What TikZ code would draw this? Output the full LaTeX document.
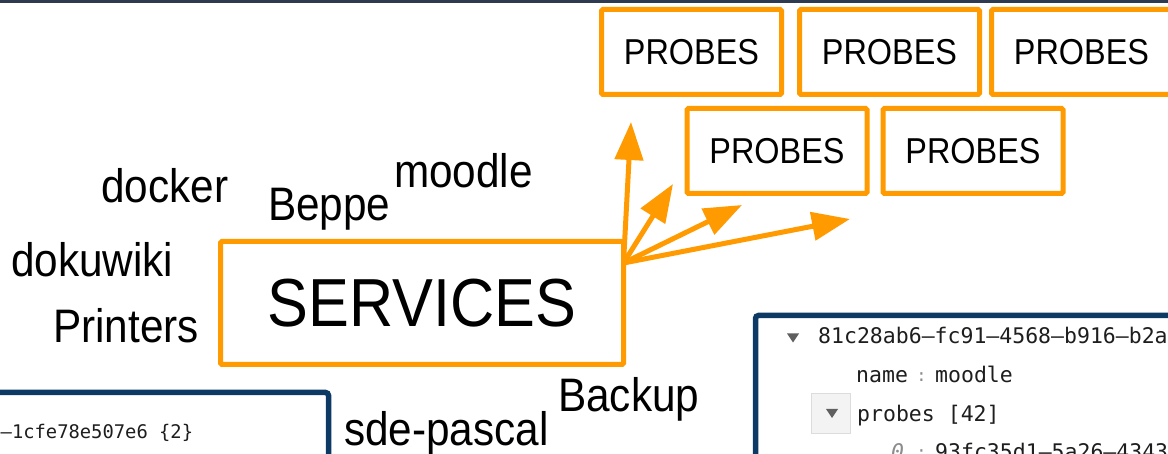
\documentclass[tikz,border=0pt]{standalone}
\usepackage{fontspec}
\setmainfont[FakeStretch=0.9]{Liberation Sans}
\newfontfamily\jsonfont{DejaVu Sans Mono}
\usetikzlibrary{arrows.meta,calc}
\definecolor{orng}{RGB}{255,155,0}
\definecolor{navy}{RGB}{12,58,100}
\definecolor{topbar}{RGB}{46,58,79}
\definecolor{jsontext}{RGB}{30,30,30}
\definecolor{jsongray}{RGB}{140,140,140}
\definecolor{togglefill}{RGB}{243,243,243}
\definecolor{toggledraw}{RGB}{220,220,220}
\definecolor{tri}{RGB}{95,95,95}

\begin{document}
\begin{tikzpicture}[x=1pt,y=-1pt,
  probebox/.style={draw=orng, line width=5pt, rounded corners=1.5pt, outer sep=0pt,
    inner sep=0pt, minimum width=180pt, minimum height=85pt,
    font=\fontsize{36}{36}\selectfont},
  svcbox/.style={draw=orng, line width=5pt, rounded corners=1.5pt, outer sep=0pt,
    inner sep=0pt, minimum width=403pt, minimum height=123pt,
    font=\fontsize{68}{68}\selectfont},
  lbl/.style={anchor=base west, inner sep=0pt, font=\fontsize{47}{47}\selectfont},
  link/.style={draw=orng, line width=5pt, -{Triangle[length=38pt,width=28pt]}},
  panel/.style={draw=navy, line width=5.5pt, rounded corners=3pt},
  json/.style={anchor=base west, inner sep=0pt, text=jsontext,
    font=\jsonfont\fontsize{21.5}{21.5}\selectfont},
  jsonsep/.style={anchor=base, inner sep=0pt, text=jsongray,
    font=\jsonfont\fontsize{17}{17}\selectfont},
]
\useasboundingbox (0,0) rectangle (1168,454);
\fill[white] (0,0) rectangle (1168,454);
\clip (0,0) rectangle (1168,454);

% window bar along the top edge
\fill[topbar] (0,0) rectangle (1168,3.5);

% JSON viewer panels
\draw[panel] (-20,392.5) -- (328.5,392.5) -- (328.5,480);
\node[json, font=\jsonfont\fontsize{18.8}{18.8}\selectfont] (leftkey) at (0.5,438.5) {–1cfe78e507e6 \{2\}};

\draw[panel] (755.5,480) -- (755.5,315.5) -- (1190,315.5);
\fill[tri] (787,333.5) -- (799,333.5) -- (793,342.5) -- cycle;
\node[json] (rootkey) at (818,344) {81c28ab6–fc91–4568–b916–b2a};
\node[json] (namekey) at (856,383) {name};
\node[jsonsep] (namesep) at (921.5,382) {:};
\node[json] (nameval) at (935,383) {moodle};
\draw[fill=togglefill, draw=toggledraw, line width=1pt] (811,394) rectangle (850,433);
\fill[tri] (826,409) -- (838,409) -- (832,418) -- cycle;
\node[json] (probeskey) at (857,421) {probes [42]};
\node[json, text=jsongray, font=\jsonfont\itshape\fontsize{21.5}{21.5}\selectfont] (idx) at (891,459) {0};
\node[jsonsep] (idxsep) at (921.5,458) {:};
\node[json] (idxval) at (935,459) {93fc35d1–5a26–4343};

% probe boxes
\node[probebox] (p1) at (691.5,52) {PROBES};
\node[probebox] (p2) at (889.5,52) {PROBES};
\node[probebox] (p3) at (1081.5,52) {PROBES};
\node[probebox] (p4) at (777,151) {PROBES};
\node[probebox] (p5) at (973,151) {PROBES};

% services box
\node[svcbox] (svc) at (422,303) {SERVICES};

% service names around the box
\node[lbl] (docker) at (101,203) {docker};
\node[lbl] (beppe) at (268,221) {Beppe};
\node[lbl] (moodle) at (394,188) {moodle};
\node[lbl] (dokuwiki) at (11,277) {dokuwiki};
\node[lbl] (printers) at (53,343) {Printers};
\node[lbl] (backup) at (558,411) {Backup};
\node[lbl] (sdepascal) at (344,446) {sde-pascal};

% arrows fanning out from the services box
\coordinate (src) at ($(svc.north east)+(0,21.5)$);
\coordinate (t1) at (631,122);
\coordinate (t2) at (673,184);
\coordinate (t3) at (742,205);
\coordinate (t4) at (850,219);
\draw[link] (src) -- (t1);
\draw[link] (src) -- (t2);
\draw[link] (src) -- (t3);
\draw[link] (src) -- (t4);
\end{tikzpicture}
\end{document}
